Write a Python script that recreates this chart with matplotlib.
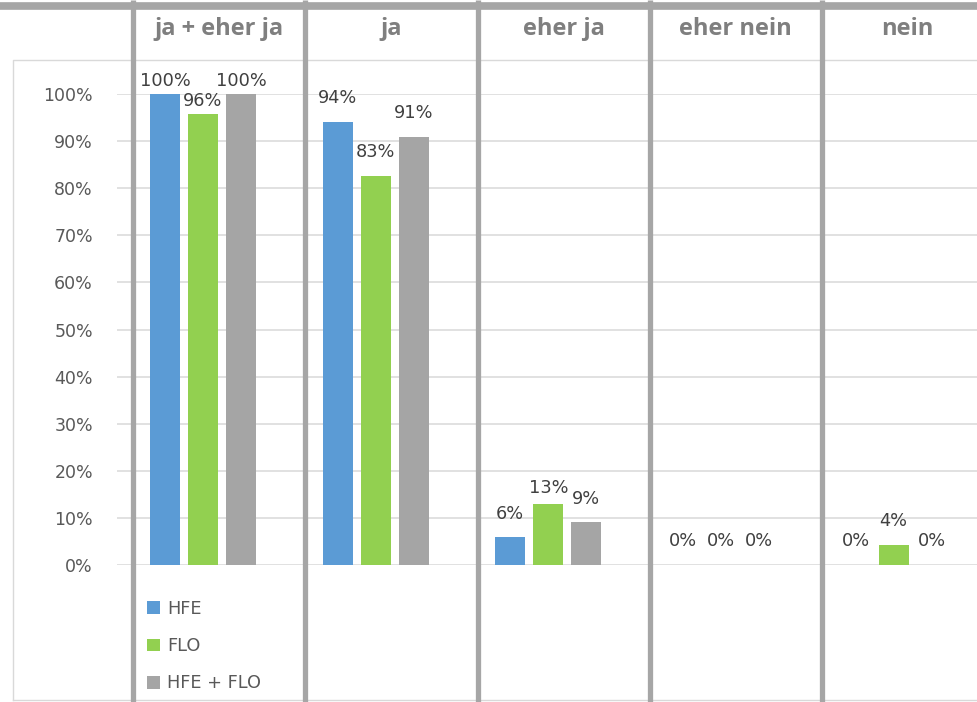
import numpy as np
import matplotlib
matplotlib.use('Agg')
import matplotlib.pyplot as plt
from matplotlib.ticker import PercentFormatter

# data
categories = ['ja + eher ja', 'ja', 'eher ja', 'eher nein', 'nein']
series_names = ['HFE', 'FLO', 'HFE + FLO']
hfe = [1.00, 0.941, 0.059, 0.0, 0.0]
flo = [0.957, 0.826, 0.130, 0.0, 0.043]
hfe_flo = [1.00, 0.909, 0.091, 0.0, 0.0]
values = [hfe, flo, hfe_flo]

colors = ['#5b9bd5', '#92d050', '#a5a5a5']
# label offsets (points above bar top) for crowded labels
label_off = [[9.5, 17, 17, 17, 17],
             [9.5, 17, 11.5, 17, 17],
             [9.5, 17, 17, 17, 17]]

W, H = 977, 702
fig = plt.figure(figsize=(W / 100, H / 100), dpi=100)

# plot area in pixels
left, right, y0, y100 = 116.6, 980, 565, 94
ax = fig.add_axes([left / W, (H - y0) / H, (right - left) / W, (y0 - y100) / H])

x = np.arange(len(categories))
bw = 0.174
step = 0.22
for i, (vals, c, name) in enumerate(zip(values, colors, series_names)):
    xs = x + (i - 1) * step
    ax.bar(xs, vals, width=bw, color=c, label=name, zorder=3)
    for xi, v, off in zip(xs, vals, label_off[i]):
        ax.annotate(f'{v:.0%}', (xi, v), xytext=(0, off), textcoords='offset points',
                    ha='center', va='center', fontsize=12.8, color='#404040',
                    annotation_clip=False)

ax.set_xlim(-0.5, len(categories) - 0.5)
ax.set_ylim(0, 1)
ax.set_yticks(np.arange(0, 1.01, 0.1))
ax.yaxis.set_major_formatter(PercentFormatter(1.0, decimals=0))
ax.tick_params(axis='y', length=0, pad=17, labelsize=12.5, labelcolor='#595959')
ax.set_xticks([])
ax.grid(axis='y', color='#d9d9d9', linewidth=1.1, zorder=0)
for s in ax.spines.values():
    s.set_visible(False)
ax.set_facecolor('none')

ax.legend(loc='upper left', bbox_to_anchor=(147 / W, 1 - 600 / H), bbox_transform=fig.transFigure,
          frameon=False, fontsize=12.8, handlelength=0.72, handleheight=0.72,
          handletextpad=0.4, labelspacing=1.08, borderpad=0, borderaxespad=0,
          labelcolor='#595959')

# table decoration on top
deco = fig.add_axes([0, 0, 1, 1])
deco.set_xlim(0, W)
deco.set_ylim(H, 0)
deco.axis('off')
deco.patch.set_visible(False)

# chart frame
deco.plot([13, 13, W + 5], [700, 60, 60], color='#d9d9d9', lw=1.0)
deco.plot([13, W + 5], [700, 700], color='#d9d9d9', lw=1.0)

col_lines = [133, 304.5, 477.5, 649.5, 821.5, 994]
deco.plot([0, W], [5.5, 5.5], color='#a6a6a6', lw=5.5, solid_capstyle='butt')
for cx in col_lines:
    deco.plot([cx, cx], [0, H], color='#a6a6a6', lw=3.8, solid_capstyle='butt')
for a, b, name in zip(col_lines[:-1], col_lines[1:], categories):
    deco.text((a + b) / 2, 29, name, ha='center', va='center', fontsize=17,
              fontweight='bold', family='Open Sans', color='#7f7f7f')

fig.savefig('out.png', dpi=100)
